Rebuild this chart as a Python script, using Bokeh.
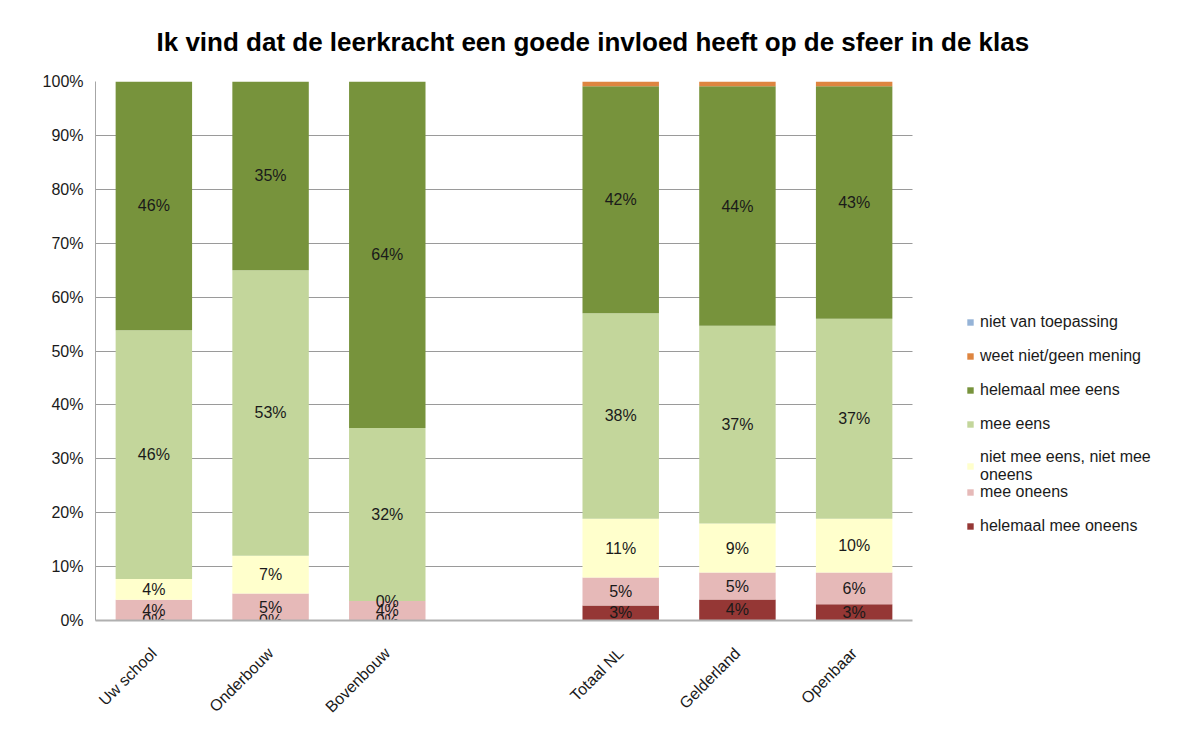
from math import pi
from bokeh.plotting import figure
from bokeh.models import (Range1d, FixedTicker, PrintfTickFormatter,
                          Legend, LegendItem, ColumnDataSource, Title)
from bokeh.embed import file_html
from bokeh.resources import INLINE
from bokeh.core.properties import value

# ---- data ----
categories = ["Uw school", "Onderbouw", "Bovenbouw", " ", "Totaal NL", "Gelderland", "Openbaar"]
bar_categories = ["Uw school", "Onderbouw", "Bovenbouw", "Totaal NL", "Gelderland", "Openbaar"]

helemaal_mee_oneens = [0.0, 0.0, 0.0, 2.8, 3.9, 3.0]
mee_oneens = [3.85, 5.0, 3.6, 5.2, 5.0, 5.9]
neutraal = [3.85, 7.0, 0.0, 10.9, 9.1, 10.0]
mee_eens = [46.15, 53.0, 32.1, 38.1, 36.7, 37.1]
helemaal_mee_eens = [46.15, 35.0, 64.3, 42.1, 44.4, 43.1]
weet_niet = [0.0, 0.0, 0.0, 0.9, 0.9, 0.9]
niet_van_toepassing = [0.0, 0.0, 0.0, 0.0, 0.0, 0.0]

series_keys = ["hmo", "mo", "neu", "me", "hme", "wn", "nvt"]
series_labels = ["helemaal mee oneens", "mee oneens", "niet mee eens, niet mee\noneens",
                 "mee eens", "helemaal mee eens", "weet niet/geen mening", "niet van toepassing"]
series_values = [helemaal_mee_oneens, mee_oneens, neutraal, mee_eens, helemaal_mee_eens,
                 weet_niet, niet_van_toepassing]
colors = ["#953735", "#E6B9B8", "#FFFFCC", "#C3D69B", "#77933C", "#DE8540", "#95B3D7"]
labeled_series = 5
y_ticks = list(range(0, 101, 10))

title_text = "Ik vind dat de leerkracht een goede invloed heeft op de sfeer in de klas"

# category slots on a numeric axis; extra room on the right holds the legend
n_slots = len(categories)
x_pos = [categories.index(c) for c in bar_categories]
slot_px = 817 / n_slots
x_end = -0.5 + 1066 / slot_px

FONT = "Liberation Sans"
FS = "16px"

# ---- figure ----
p = figure(x_range=Range1d(-0.5, x_end), y_range=Range1d(0, 100),
           width=1161, height=725, output_backend="svg", toolbar_location=None,
           min_border_left=95, min_border_top=81, min_border_bottom=105, min_border_right=0)
p.outline_line_color = None
p.styles = {"box-shadow": "-1px -1px 0 0 #8c8c8c"}

data = {"x": x_pos}
for k, v in zip(series_keys, series_values):
    data[k] = v
src = ColumnDataSource(data)
renderers = p.vbar_stack(series_keys, x="x", width=0.655, source=src,
                         color=colors, line_color=None)

# value labels
lx, ly, lt = [], [], []
for i, xp in enumerate(x_pos):
    base = 0.0
    for s in range(labeled_series):
        v = series_values[s][i]
        lx.append(xp)
        ly.append(base + v / 2)
        lt.append(f"{round(v)}%")
        base += v
p.text(x="x", y="y", text="t", source=ColumnDataSource(dict(x=lx, y=ly, t=lt)),
       text_align="center", text_baseline="middle", text_font=value(FONT),
       text_font_size=FS, text_color="#1a1a1a")

# axes
p.yaxis.ticker = FixedTicker(ticks=y_ticks)
p.yaxis.formatter = PrintfTickFormatter(format="%d%%")
p.yaxis.axis_line_color = "#a6a6a6"
p.yaxis.major_tick_line_color = None
p.yaxis.minor_tick_line_color = None
p.yaxis.major_label_standoff = 6
p.yaxis.major_label_text_font = FONT
p.yaxis.major_label_text_font_size = FS
p.yaxis.major_label_text_color = "#1a1a1a"

p.xaxis.ticker = FixedTicker(ticks=x_pos)
p.xaxis.major_label_overrides = {xp: c for xp, c in zip(x_pos, bar_categories)}
p.xaxis.bounds = (-0.5, n_slots - 0.5)
p.xaxis.axis_line_color = "#b0b0b0"
p.xaxis.axis_line_width = 2
p.xaxis.major_tick_line_color = None
p.xaxis.minor_tick_line_color = None
p.xaxis.major_label_orientation = pi / 4
p.xaxis.major_label_standoff = 24
p.xaxis.major_label_text_font = FONT
p.xaxis.major_label_text_font_size = FS
p.xaxis.major_label_text_color = "#1a1a1a"

p.xgrid.grid_line_color = None
p.ygrid.ticker = FixedTicker(ticks=y_ticks)
p.ygrid.grid_line_color = "#9a9a9a"
try:
    p.ygrid.cross_bounds = (-0.5, n_slots - 0.5)
except Exception:
    p.ygrid.grid_line_color = None
    p.segment(x0=[-0.5] * len(y_ticks), x1=[n_slots - 0.5] * len(y_ticks),
              y0=y_ticks, y1=y_ticks, line_color="#9a9a9a", line_width=1, level="underlay")

# legends (two blocks so the wrapped label does not push the last entries down)
items = [LegendItem(label=lab, renderers=[r]) for lab, r in zip(series_labels, renderers)]
common = dict(padding=0, margin=0, border_line_color=None, background_fill_alpha=0,
              glyph_width=8, glyph_height=8, label_standoff=6, label_height=20, spacing=14,
              label_text_font=FONT, label_text_font_size=FS,
              label_text_color="#1a1a1a")
legend_top = Legend(items=[items[6], items[5], items[4], items[3], items[2]],
                    location=(871, 136), **common)
legend_bottom = Legend(items=[items[1], items[0]], location=(871, 84), **common)
p.add_layout(legend_top, "center")
p.add_layout(legend_bottom, "center")

# title
p.add_layout(Title(text=title_text, align="left", offset=61, standoff=49,
                   text_font=FONT, text_font_size="26px",
                   text_font_style="bold", text_color="#000000"), "above")

open("out.html", "w").write(file_html(p, INLINE))
